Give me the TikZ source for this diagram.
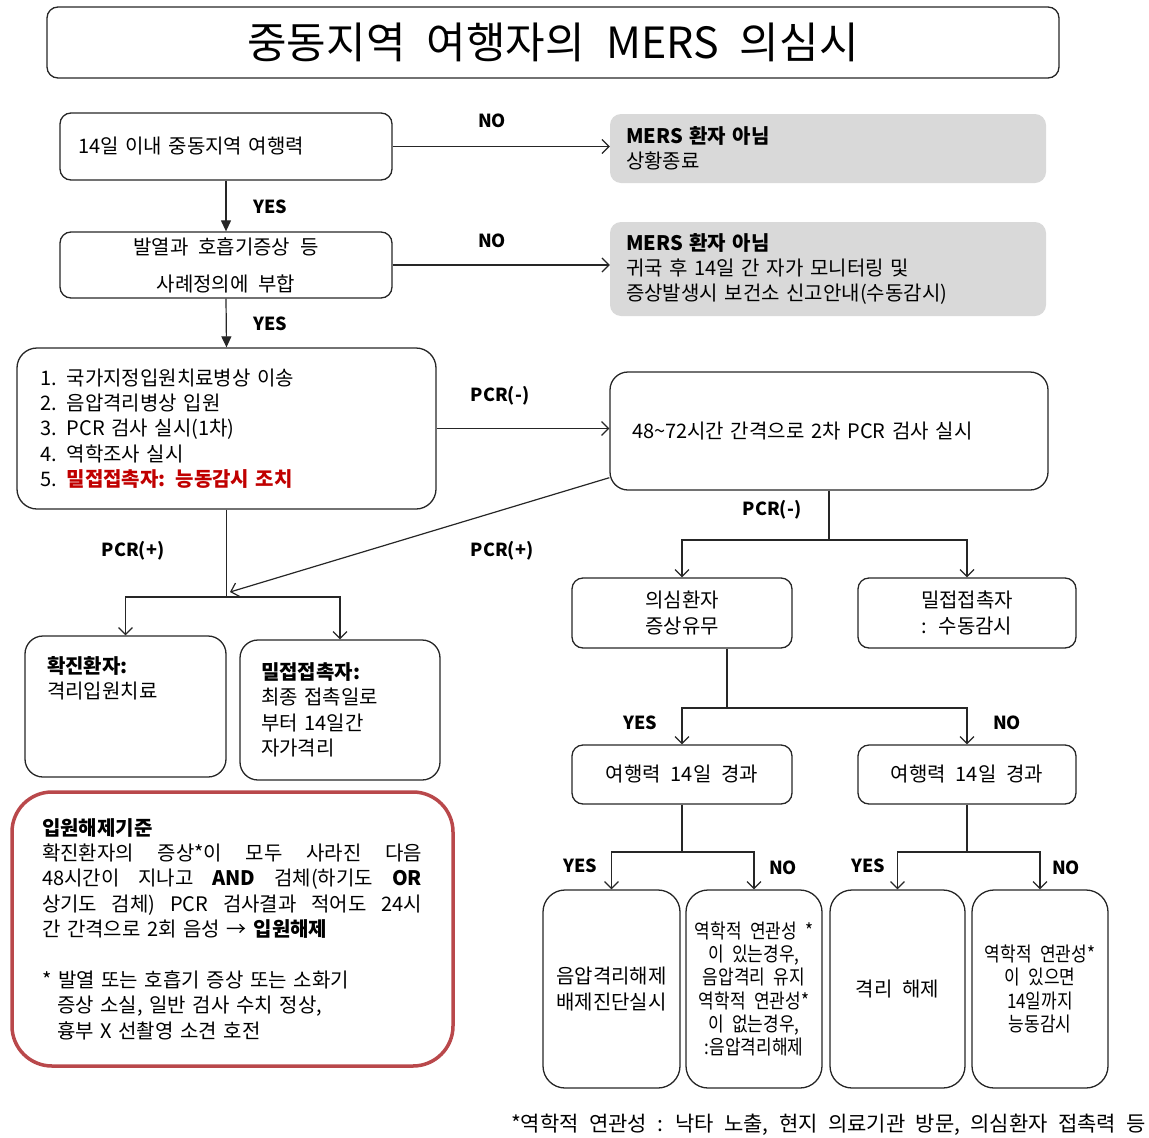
\documentclass[tikz,border=0pt]{standalone}
\usepackage{fontspec}
\setmainfont{Noto Sans CJK KR}[WordSpace=2.2]
\usepackage{xcolor}
\usetikzlibrary{arrows.meta}
\definecolor{greyfill}{RGB}{217,217,217}
\definecolor{critred}{RGB}{185,72,75}
\definecolor{alertred}{RGB}{192,0,0}
\newcommand\boxfont{\fontsize{20}{25.4}\selectfont}
\newcommand\titlefont{\fontsize{43}{46}\selectfont}
\newcommand\lblfont{\fontsize{18}{20}\selectfont\bfseries}
\newcommand\narrowfont{\fontsize{20}{23.2}\selectfont\addfontfeature{FakeStretch=0.85}}
\newcommand\gap{\hfill}

\begin{document}
\begin{tikzpicture}[x=1pt,y=-1pt,font=\boxfont,
  box/.style={draw=black!85,line width=1.3pt,rounded corners=11pt,inner sep=0pt},
  grey box/.style={fill=greyfill,rounded corners=11pt,inner sep=0pt},
  lbl/.style={font=\lblfont,inner sep=0pt},
  conn/.style={line width=1.2pt,draw=black!85},
  arr/.style={conn,-{Straight Barb[length=7pt,width=14pt]}},
  farr/.style={conn,-{Triangle[length=11pt,width=10pt]}}]
\useasboundingbox (0,0) rectangle (1149,1138);

%title
\node[box,minimum width=1012pt,minimum height=71pt,font=\titlefont] (title) at (553,42.5) {중동지역 여행자의 MERS 의심시};

%screening steps on the left
\node[box,text width=296pt,inner xsep=18pt,minimum height=67pt,align=left] (trip) at (226,146.5) {14일 이내 중동지역 여행력};
\node[box,minimum width=332pt,minimum height=66pt,align=center,font=\fontsize{20}{37}\selectfont] (symp) at (226,265) {발열과 호흡기증상 등\\사례정의에 부합};
\node[box,rounded corners=20pt,text width=373pt,inner xsep=23pt,minimum height=161pt,align=left] (admit) at (226.5,428.5)
  {1. 국가지정입원치료병상 이송\\2. 음압격리병상 입원\\3. PCR 검사 실시(1차)\\4. 역학조사 실시\\5. \textcolor{alertred}{\textbf{밀접접촉자: 능동감시 조치}}};

%not a case
\node[grey box,text width=404pt,inner xsep=16pt,minimum height=69pt,align=left] (endA) at (828,148.5) {\textbf{MERS 환자 아님}\\상황종료};
\node[grey box,text width=404pt,inner xsep=16pt,minimum height=94pt,align=left] (endB) at (828,269)
  {\textbf{MERS 환자 아님}\\귀국 후 14일 간 자가 모니터링 및\\증상발생시 보건소 신고안내(수동감시)};

%second test
\node[box,rounded corners=18pt,text width=394pt,inner xsep=22pt,minimum height=118pt,align=left] (retest) at (829,431) {48\textasciitilde72시간 간격으로 2차 PCR 검사 실시};

%positive result
\node[box,rounded corners=18pt,text width=157pt,inner xsep=22pt,minimum height=141pt,align=left] (conf) at (125.5,706.5) {\textbf{확진환자:}\\격리입원치료\\\strut\\\strut};
\node[box,rounded corners=18pt,text width=158pt,inner xsep=21pt,minimum height=140pt,align=left] (cont) at (340,710) {\textbf{밀접접촉자:}\\최종 접촉일로\\부터 14일간\\자가격리};

%discharge criteria
\node[box,draw=critred,line width=3.5pt,rounded corners=40pt,text width=381pt,inner xsep=30pt,minimum height=274pt,align=left] (crit) at (232.5,929)
  {\textbf{입원해제기준}\\
   \makebox[380pt]{확진환자의\gap 증상*이\gap 모두\gap 사라진\gap 다음}\\
   \makebox[380pt]{48시간이\gap 지나고\gap \textbf{AND}\gap 검체(하기도\gap \textbf{OR}}\\
   \makebox[380pt]{상기도\gap 검체)\gap PCR\gap 검사결과\gap 적어도\gap 24시}\\
   간 간격으로 2회 음성 → \textbf{입원해제}\\[25.4pt]
   * 발열 또는 호흡기 증상 또는 소화기\\
   \hspace*{15pt}증상 소실, 일반 검사 수치 정상,\\
   \hspace*{15pt}흉부 X 선촬영 소견 호전};

%negative result
\node[box,minimum width=220pt,minimum height=70pt,align=center] (susp) at (682,613) {의심환자\\증상유무};
\node[box,minimum width=218pt,minimum height=70pt,align=center] (pass) at (967,613) {밀접접촉자\\: 수동감시};
\node[box,minimum width=220pt,minimum height=59pt] (travA) at (682,774.5) {여행력 14일 경과};
\node[box,minimum width=218pt,minimum height=59pt] (travB) at (967,774.5) {여행력 14일 경과};
\node[box,rounded corners=22pt,minimum width=137pt,minimum height=198pt,align=center] (relA) at (611.5,989) {음압격리해제\\배제진단실시};
\node[box,rounded corners=22pt,minimum width=136pt,minimum height=198pt,align=center,font=\narrowfont] (keepA) at (754,989)
  {역학적 연관성 *\\이 있는경우,\\음압격리 유지\\역학적 연관성*\\이 없는경우,\\:음압격리해제};
\node[box,rounded corners=22pt,minimum width=135pt,minimum height=198pt] (relB) at (897.5,989) {격리 해제};
\node[box,rounded corners=22pt,minimum width=136pt,minimum height=198pt,align=center,font=\narrowfont] (monB) at (1040,989)
  {역학적 연관성*\\이 있으면\\14일까지\\능동감시};

\node[anchor=east,inner sep=0pt,font=\fontsize{21}{24}\selectfont] (note) at (1146,1125) {*역학적 연관성 : 낙타 노출, 현지 의료기관 방문, 의심환자 접촉력 등};

%junctions
\coordinate (jpos) at (226.5,597);
\coordinate (jtip) at (230,592);
\coordinate (jneg) at (829,540);
\coordinate (jsym) at (727,708);
\coordinate (jtrA) at (682,852);
\coordinate (jtrB) at (967,852);

%connectors
\draw[arr] (trip.east) -- (trip.east -| endA.west);
\draw[farr] (trip.south) -- (symp.north);
\draw[arr] (symp.east) -- (symp.east -| endB.west);
\draw[farr] (symp.south) -- (admit.north);
\draw[arr] (admit.east) -- (admit.east -| retest.west);
\draw[conn] (admit.south) -- (jpos);
\draw[arr] (jpos) -| (conf.north);
\draw[arr] (jpos) -| (cont.north);
\draw[arr] (retest.192) -- (jtip);
\draw[conn] (retest.south) -- (jneg);
\draw[arr] (jneg) -| (susp.north);
\draw[arr] (jneg) -| (pass.north);
\draw[conn] (susp.south -| jsym) -- (jsym);
\draw[arr] (jsym) -| (travA.north);
\draw[arr] (jsym) -| (travB.north);
\draw[conn] (travA.south) -- (jtrA);
\draw[arr] (jtrA) -| (relA.north);
\draw[arr] (jtrA) -| (keepA.north);
\draw[conn] (travB.south) -- (jtrB);
\draw[arr] (jtrB) -| (relB.north);
\draw[arr] (jtrB) -| (monB.north);

%labels
\node[lbl] (noA) at (492,121) {NO};
\node[lbl] (yesA) at (270,207) {YES};
\node[lbl] (noB) at (492,241) {NO};
\node[lbl] (yesB) at (270,324) {YES};
\node[lbl] (negA) at (500,396) {PCR(-)};
\node[lbl] (posA) at (133,551) {PCR(+)};
\node[lbl] (posB) at (502,551) {PCR(+)};
\node[lbl] (negB) at (772,510) {PCR(-)};
\node[lbl] (yesC) at (640,723) {YES};
\node[lbl] (noC) at (1007,723) {NO};
\node[lbl] (yesD) at (580,866) {YES};
\node[lbl] (noD) at (783,868) {NO};
\node[lbl] (yesE) at (868,866) {YES};
\node[lbl] (noE) at (1066,868) {NO};
\end{tikzpicture}
\end{document}
